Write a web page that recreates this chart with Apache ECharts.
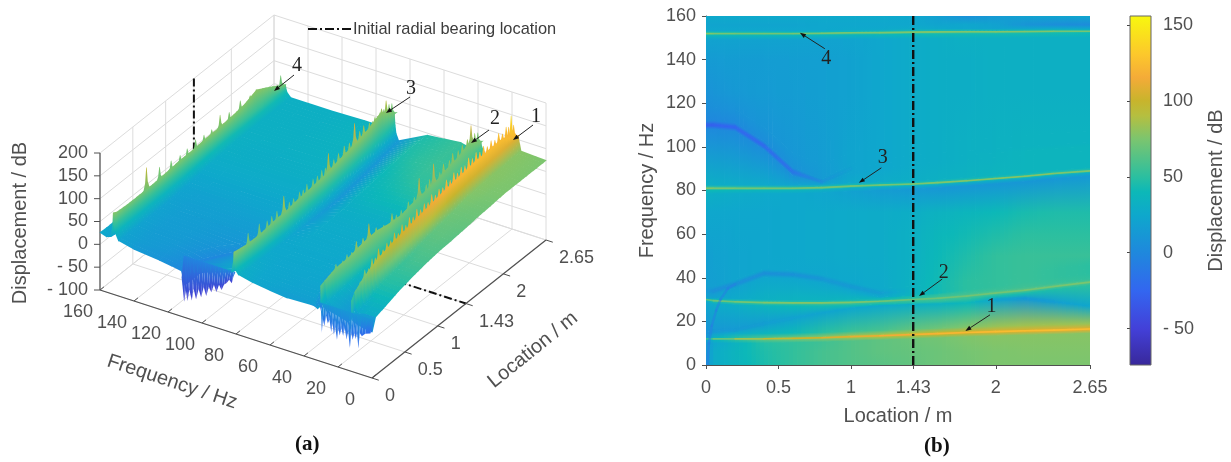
<!DOCTYPE html>
<html><head><meta charset="utf-8">
<style>html,body{margin:0;padding:0;background:#fff}#c{width:1231px;height:462px}</style>
<script src="https://cdn.jsdelivr.net/npm/echarts@6/dist/echarts.min.js"></script>
</head><body><div id="c"></div>
<script>
// ---------- scales and ticks
const locTicks=[0,0.5,1,1.43,2,2.65];
const freqTicks=[0,20,40,60,80,100,120,140,160];
const dispTicks=[-100,-50,0,50,100,150,200];
const barTicks=[-50,0,50,100,150];
const bearingLocation=1.43;
const bearingName='Initial radial bearing location';
const colorZ=[-74,-50,-25,0,25,40,50,75,90,100,115,130,156];
const colorHex=['#38289a','#4340d8','#3366f0','#1f88dd','#0ea8cc','#0cb8b8','#2bbfa0','#7cc56e','#b5bf40','#c8b42c','#f4ab38','#fcc72c','#f8f80e'];
// ---------- columns of the surface
const L=[0,0.05,0.2,0.4,0.6,0.8,1,1.2,1.43,1.6,1.8,2,2.2,2.4,2.65];
// ---------- resonance and valley traces (Hz per location)
const r1F=[12,12,12,12,12.2,12.5,13,13.4,14,14.4,14.9,15.3,15.7,16,16.5];
const r2F=[30,29.5,29,28.6,28.5,28.5,28.7,29.2,30,30.6,31.6,33,34.3,36,38];
const r3F=[81,81,81,81,81,81.3,82,82.5,83,83.6,84.5,85.5,86.5,87.8,89];
const r4F=[152,152,152,152,152,152.1,152.3,152.4,152.6,152.7,152.8,152.8,152.9,153,153];
const a6F=[15,15.5,16,19,21.5,24,26,27.2,27.8,28,28.5,30,30.5,29,27];
const a2Lo=[32,32,35,40,39.5,37.5,34,31,32,33,34.5,36,38,40,42];
const a2F=[34,34,37,42,41.5,39.5,36,33,34,35,36.5,38,40,42,44];
const a2Hi=[36,36,39,44,43.5,41.5,38,35,36,37,38.5,40,42,44,46];
const a1Lo=[108,108,107,98.5,86.5,83.2,88,90,92,93,94,95,96,97,98];
const a1F=[110,110,109,100.5,88.5,84,90,92,94,95,96,97,98,99,100];
const a1Hi=[112,112,111,102.5,90.5,85,92,94,96,97,98,99,100,101,102];
const a1Wide=[118,118,117,109,97,92,97,99,101,102,103,104,105,106,107];
// ---------- displacement values (dB) per frequency layer
const v0=[2,28,35,45,52,58,62,64,67,70,72,75,75,75,75];
const v6=[5,28,36,46,52,58,62,66,68,70,73,75,76,76,76];
const vR1m2=[10,24,34,48,52,56,62,66,70,72,76,78,78,78,78];
const vR1m=[14,36,50,66,72,78,84,90,96,100,102,104,106,108,108];
const vR1=[45,60,75,92,98,104,108,112,118,120,122,124,124,124,124];
const vR1p=[12,34,48,62,70,78,84,88,94,98,102,104,104,106,106];
const vR1p2=[6,18,28,36,40,48,54,58,66,70,76,82,84,84,82];
const vA6=[8,12,14,17,20,22,24,26,31,33,40,22,12,18,24];
const vR2m2=[22,28,30,36,40,42,42,40,46,50,50,44,44,46,50];
const vR2m=[30,45,50,52,54,56,56,54,56,58,58,58,60,60,60];
const vR2=[60,68,72,74,78,76,76,72,70,70,72,72,72,74,74];
const vR2p=[26,40,46,48,48,48,48,46,50,56,60,62,62,62,60];
const vR2p2=[16,20,26,32,34,34,36,36,44,50,54,54,56,54,52];
const vA2Lo=[18,18,22,24,24,24,24,26,36,42,50,52,54,52,50];
const vA2=[16,6,6,6,8,12,14,18,34,42,50,52,54,52,50];
const vA2Hi=[18,18,22,24,24,24,25,26,34,42,50,52,54,52,50];
const v50=[16,20,22,24,25,26,27,28,32,40,46,52,54,54,54];
const v60=[20,22,23,24,25,26,27,28,32,38,42,46,50,50,50];
const v70=[25,24,24,24,25,26,27,28,30,34,37,40,44,46,46];
const vR3m2=[32,30,28,26,25,24,20,16,14,12,12,12,12,12,14];
const vR3m1=[40,40,38,36,36,32,30,28,28,28,28,28,28,28,28];
const vR3m=[55,55,54,54,52,50,48,46,46,46,46,46,46,46,46];
const vR3=[78,74,72,72,72,72,72,72,74,76,76,78,78,78,72];
const vR3p=[56,54,52,50,48,46,44,44,44,46,46,46,46,48,48];
const vR3p2=[32,30,28,26,22,22,26,28,30,32,34,36,36,36,36];
const vA1Lo=[2,2,3,5,8,16,22,24,28,30,32,34,36,36,36];
const vA1=[-28,-28,-24,-22,-16,6,22,24,28,30,32,34,36,36,36];
const vA1Hi=[0,0,2,4,8,14,22,24,28,30,32,33,34,34,34];
const vA1Wide=[4,6,8,10,12,16,22,24,28,30,32,33,34,34,34];
const v125=[8,10,13,15,16,18,20,24,28,30,30,32,32,32,32];
const v140=[14,15,16,16,17,18,20,24,28,30,30,32,32,32,32];
const vR4m2=[22,20,20,20,20,20,22,24,28,30,32,32,32,32,32];
const vR4m1=[38,36,36,36,36,36,36,38,40,42,42,42,42,42,40];
const vR4m=[55,52,52,52,52,52,52,52,54,54,54,54,54,50,46];
const vR4=[78,74,72,72,72,74,74,74,76,76,76,76,78,74,72];
const vR4p=[45,42,42,42,40,40,42,42,44,44,44,42,42,42,40];
const vR4p2=[25,24,24,24,24,24,26,26,28,26,24,22,22,22,20];
const v156=[22,22,22,22,22,24,24,24,24,22,24,20,10,5,3];
const v160=[27,26,26,26,26,26,26,26,24,18,6,14,20,22,24];
// ---------- crest height of each ridge in panel (a)
const r1Env=[55,68,85,100,108,112,116,120,124,126,128,130,130,130,108];
const r2Env=[66,72,82,85,92,95,88,84,88,88,88,90,90,95,70];
const r3Env=[78,76,72,72,76,76,78,78,80,84,86,88,92,100,70];
const r4Env=[78,74,72,72,72,74,76,76,78,78,80,84,95,78,55];
// ---------- spike tips [location, dB] along the ridges of panel (a)
const r1Tips=[[.13,82],[.2,100],[.26,96],[.31,112],[.36,108],[.41,122],[.48,112],[.54,120],[.6,118],[.66,128],[.72,120],[.78,132],[.84,124],[.9,134],[.96,128],[1.02,138],[1.08,130],[1.14,136],[1.2,132],[1.26,142],[1.32,134],[1.38,140],[1.44,136],[1.5,146],[1.56,138],[1.62,148],[1.68,140],[1.74,146],[1.8,142],[1.86,152],[1.92,144],[1.98,150],[2.04,144],[2.1,150],[2.16,142],[2.22,148],[2.28,142],[2.34,150],[2.4,142],[2.46,150],[2.5,145],[2.54,165],[2.58,140]];
const r2Tips=[[.2,92],[.3,88],[.36,95],[.43,92],[.5,108],[.6,104],[.69,125],[.8,104],[.92,96],[1.05,106],[1.12,95],[1.2,96],[1.32,100],[1.42,98],[1.5,130],[1.62,102],[1.68,106],[1.75,132],[1.86,100],[1.93,110],[2.04,104],[2.1,112],[2.2,106],[2.28,108],[2.38,108],[2.45,130],[2.52,104],[2.58,98]];
const r3Tips=[[.21,96],[.38,97],[.5,90],[.57,92],[.65,94],[.76,114],[.85,90],[.92,90],[1.02,92],[1.08,90],[1.14,96],[1.24,95],[1.31,94],[1.38,98],[1.44,96],[1.49,122],[1.58,98],[1.66,102],[1.76,106],[1.85,102],[1.94,134],[2.03,106],[2.1,110],[2.2,104],[2.26,100],[2.3,104],[2.35,100],[2.42,108],[2.46,102],[2.5,116],[2.55,102],[2.6,98]];
const r4Tips=[[.5,121],[.7,99],[.88,92],[1.02,88],[1.13,90],[1.26,95],[1.39,90],[1.51,88],[1.64,105],[1.78,95],[1.95,101],[2.1,95],[2.57,85]];
// lower tips of the location-zero edge [frequency, dB]
const tipsHigh=[[112,-15],[110.5,-66],[109.5,-40],[108.5,-62],[107.5,-35],[106,-58],[105,-30],[103.5,-52],[102,-28],[100.5,-44],[99,-20],[97.5,-38],[96,-16],[94.5,-26],[93,-8],[91.5,-22],[90,-4],[88.5,-14],[87,0],[85.5,5],[84,14],[82.5,8],[81.5,24]];
const tipsLow=[[32,40],[30,10],[29.5,-36],[29,-5],[28,-20],[27,5],[26,-12],[25,-2],[24,-28],[23.2,-8],[22.4,-32],[21.6,-14],[20.6,-41],[19.8,-16],[19,-30],[18,-12],[17,-28],[16,-10],[15,-34],[14,-14],[13,-50],[12.2,-16],[11.4,-30],[10.4,-14],[9.6,-26],[8.8,-12],[8,-45],[7.2,-10],[6,-16],[4,-8],[1,-4],[0,2]];
const edgeValley=[[0.01,0],[0.02,10],[0.04,18],[0.07,25],[0.1,30],[0.15,35],[0.2,37]];
// annotations: [label, labelPos, arrowFrom, arrowTo]
const annB=[['1',[1.97,26.5],[1.96,23],[1.79,15.6]],['2',[1.64,42.5],[1.63,39.4],[1.47,31.6]],['3',[1.22,94.9],[1.21,90.4],[1.055,83.5]],['4',[.83,140.4],[.82,145],[.648,152.3]]];
const annA=[['1',[436,261],[433,253],[413,238]],['2',[395,259],[389,248],[371,235]],['3',[311,289],[310,281],[286,265]],['4',[197,312],[194,303],[174,287]]];

const add=(a,d)=>a.map(v=>v+d);
const row=(f,v,extra)=>Object.assign({f:f,v:v},extra||{});
const flat=x=>L.map(()=>x);
const layers=[
 row(flat(0),v0),row(flat(6),v6),row(add(r1F,-2),vR1m2),row(add(r1F,-.35),vR1m),
 row(r1F,vR1,{tips:r1Tips,env:r1Env,tr:r1F,ridge:1}),row(add(r1F,.35),vR1p),row(add(r1F,2.5),vR1p2),
 row(a6F,vA6,{valley:1}),row(add(r2F,-1.5),vR2m2),row(add(r2F,-.4),vR2m),
 row(r2F,vR2,{tips:r2Tips,env:r2Env,tr:r2F,ridge:1}),row(add(r2F,.4),vR2p),row(add(r2F,1.5),vR2p2),
 row(a2Lo,vA2Lo),row(a2F,vA2,{valley:1}),row(a2Hi,vA2Hi),row(flat(50),v50),row(flat(60),v60),row(flat(70),v70),
 row(add(r3F,-2.5),vR3m2),row(add(r3F,-1),vR3m1),row(add(r3F,-.4),vR3m),
 row(r3F,vR3,{tips:r3Tips,env:r3Env,tr:r3F,ridge:1}),row(add(r3F,.4),vR3p),row(add(r3F,1.5),vR3p2,{edge:1}),
 row(a1Lo,vA1Lo),row(a1F,vA1,{valley:1}),row(a1Hi,vA1Hi),row(a1Wide,vA1Wide),row(flat(125),v125),row(flat(140),v140),
 row(add(r4F,-3),vR4m2),row(add(r4F,-1),vR4m1),row(add(r4F,-.4),vR4m),
 row(r4F,vR4,{tips:r4Tips,env:r4Env,tr:r4F,ridge:1}),row(add(r4F,.4),vR4p),row(add(r4F,1.5),vR4p2),
 row(flat(156),v156),row(flat(160),v160)
];

function hex(h){return [1,3,5].map(i=>parseInt(h.substr(i,2),16));}
const colorRGB=colorHex.map(hex);
function col(z){
  if(z<=colorZ[0])return colorHex[0];
  for(let i=1;i<colorZ.length;i++){ if(z<=colorZ[i]){
    const t=(z-colorZ[i-1])/(colorZ[i]-colorZ[i-1]);const a=colorRGB[i-1],b=colorRGB[i];
    return 'rgb('+a.map((c,k)=>Math.round(c+(b[k]-c)*t)).join(',')+')';}}
  return colorHex[colorHex.length-1];
}
function grad(p,q,zp,zq){return new echarts.graphic.LinearGradient(p[0],p[1],q[0],q[1],[{offset:0,color:col(zp)},{offset:1,color:col(zq)}],true);}
const mid=(a,b)=>[(a[0]+b[0])/2,(a[1]+b[1])/2];
const mix=(a,b,t)=>a+(b-a)*t;
// shade a mesh slice so that its colour bands run parallel to its row edges
function cellFill(a,b,d,e,zl,zh){
  const m=mid(a,b),o=mid(d,e);let ux=b[0]-a[0],uy=b[1]-a[1];const n=Math.hypot(ux,uy)||1;ux/=n;uy/=n;
  const nx=-uy,ny=ux,h=(o[0]-m[0])*nx+(o[1]-m[1])*ny;
  if(Math.abs(h)<0.05)return col((zl+zh)/2);
  return grad(m,[m[0]+nx*h,m[1]+ny*h],zl,zh);
}
// push a corner away from its neighbour so that the slice painted next hides the seam
function away(p,q,px){const dx=p[0]-q[0],dy=p[1]-q[1],n=Math.hypot(dx,dy)||1;return [p[0]+dx/n*px,p[1]+dy/n*px];}
function traceAt(tr,l){for(let i=1;i<L.length;i++){if(l<=L[i]){const t=(l-L[i-1])/(L[i]-L[i-1]);return mix(tr[i-1],tr[i],t);}}return tr[tr.length-1];}

// ---------- panel (a) projection onto the hidden planar axes
const fSpan=[272,88], lSpan=[174,138], zSpan=137;
function proj(f,l,z){return [fSpan[0]*(1-f/160)+lSpan[0]*l/2.65, fSpan[1]*f/160+lSpan[1]*l/2.65+(z+100)*zSpan/300];}

const sans='"Liberation Sans", Arial, sans-serif', serif='"Liberation Serif", "Times New Roman", serif';
const ink='#505050', tickFont='18px '+sans, titleFont='20px '+sans;
const itemsA=[];
function line3(pts,stroke,width,dash){itemsA.push({k:'line',pts:pts.map(p=>proj(p[0],p[1],p[2])),stroke,width,dash});}
// walls
const wall='#dcdcdc';
dispTicks.forEach(z=>{line3([[160,0,z],[160,2.65,z],[0,2.65,z]],wall,1);});
locTicks.forEach(l=>{line3([[160,l,-100],[160,l,200]],wall,1);line3([[0,l,-100],[160,l,-100]],wall,1);});
freqTicks.forEach(f=>{line3([[f,2.65,-100],[f,2.65,200]],wall,1);line3([[f,0,-100],[f,2.65,-100]],wall,1);});
// bearing trace behind the surface
line3([[160,bearingLocation,200],[160,bearingLocation,-100],[0,bearingLocation,-100]],'#111',2,[8,3,2,3]);
// axes
line3([[160,0,-100],[160,0,200]],ink,1.2);
line3([[160,0,-100],[0,0,-100]],ink,1.2);
line3([[0,0,-100],[0,2.65,-100]],ink,1.2);
dispTicks.forEach(z=>{const p=proj(160,0,z);itemsA.push({k:'line',pts:[p,[p[0]-6,p[1]]],stroke:ink,width:1});
  itemsA.push({k:'text',p:p,dx:-12,dy:0,text:z<0?'- '+(-z):String(z),font:tickFont,align:'right',fill:ink});});
freqTicks.forEach(f=>{line3([[f,0,-100],[f,.06,-100]],ink,1);
  itemsA.push({k:'text',p:proj(f,0,-100),dx:-22,dy:22,text:String(f),font:tickFont,align:'center',fill:ink});});
locTicks.forEach(l=>{line3([[0,l,-100],[-4,l,-100]],ink,1);
  itemsA.push({k:'text',p:proj(0,l,-100),dx:13,dy:18,text:String(l),font:tickFont,align:'left',fill:ink});});
itemsA.push({k:'text',p:[72,-4],dx:0,dy:0,text:'Frequency / Hz',font:titleFont,align:'center',fill:ink,rot:-0.32});
itemsA.push({k:'text',p:[433,28],dx:0,dy:0,text:'Location / m',font:titleFont,align:'center',fill:ink,rot:0.68});
itemsA.push({k:'text',p:[-80,155],dx:0,dy:0,text:'Displacement / dB',font:titleFont,align:'center',fill:ink,rot:Math.PI/2});
// surface, far to near; each mesh cell is shaded across its width by slices
const zOf=r=>r.env||r.v;
function sliceCount(c,per){return Math.max(1,Math.ceil((L[c+1]-L[c])/per));}
const needle=[[-.09,0],[-.045,.16],[-.02,.42],[-.004,1],[.004,1],[.02,.42],[.045,.16],[.09,0]];
for(let i=layers.length-2;i>=0;i--){
  const lo=layers[i],hi=layers[i+1],zl=zOf(lo),zh=zOf(hi);
  for(let c=L.length-2;c>=0;c--){
    const n=sliceCount(c,.06);
    for(let s=n-1;s>=0;s--){
      const t0=s/n,t1=(s+1)/n,P=(r,z,t)=>proj(mix(r.f[c],r.f[c+1],t),mix(L[c],L[c+1],t),mix(z[c],z[c+1],t));
      itemsA.push({k:'cell',a:P(lo,zl,t0),b:P(lo,zl,t1),d:P(hi,zh,t0),e:P(hi,zh,t1),
        zl:mix(lo.v[c],lo.v[c+1],(t0+t1)/2),zh:mix(hi.v[c],hi.v[c+1],(t0+t1)/2)});
    }
  }
  if(lo.tips){
    lo.tips.slice().reverse().forEach(tp=>{
      const b=traceAt(lo.env,tp[0])-7,f=traceAt(lo.tr,tp[0]),vb=traceAt(lo.v,tp[0]);
      const pts=needle.map(n=>proj(f,tp[0]+n[0],b+(tp[1]-b)*n[1]));
      itemsA.push({k:'spike',pts,g0:proj(f,tp[0],b),g1:proj(f,tp[0],tp[1]),z0:vb-4,z1:Math.max(vb,tp[1]-24)});
    });
  }
  if(lo.edge){
    for(let s=tipsHigh.length-2;s>=0;s--){
      const A=tipsHigh[s],B=tipsHigh[s+1];
      itemsA.push({k:'spike',pts:[proj(A[0],0,A[1]),proj(B[0],0,B[1]),proj(B[0],.03,30),proj(A[0],.03,30)],
        g0:proj(A[0],0,Math.min(A[1],B[1])),g1:proj(A[0],.03,30),z0:-52,z1:-2});
    }
  }
}
for(let s=0;s<tipsLow.length-1;s++){
  const A=tipsLow[s],B=tipsLow[s+1];
  itemsA.push({k:'spike',pts:[proj(A[0],0,A[1]),proj(B[0],0,B[1]),proj(B[0],.03,24),proj(A[0],.03,24)],
    g0:proj(A[0],0,Math.min(A[1],B[1])),g1:proj(A[0],.03,24),z0:-22,z1:12});
}
annA.forEach(a=>itemsA.push({k:'ann',text:a[0],lab:a[1],from:a[2],to:a[3]}));

function arrow(api,from,to){
  const P=api.coord(from),Q=api.coord(to);
  const dx=Q[0]-P[0],dy=Q[1]-P[1],n=Math.hypot(dx,dy),ux=dx/n,uy=dy/n;
  const h=6,w=2.2,bx=Q[0]-ux*h,by=Q[1]-uy*h;
  return [{type:'line',shape:{x1:P[0],y1:P[1],x2:bx,y2:by},style:{stroke:'#222',lineWidth:1}},
          {type:'polygon',shape:{points:[Q,[bx-uy*w,by+ux*w],[bx+uy*w,by-ux*w]]},style:{fill:'#111'}}];
}
function annText(api,t,lab){const p=api.coord(lab);return {type:'text',x:p[0],y:p[1],style:{text:t,font:'20px '+serif,fill:'#222',textAlign:'center',textVerticalAlign:'middle'}};}

function renderA(params,api){
  const it=itemsA[params.dataIndex],C=p=>api.coord(p);
  if(it.k==='line')return {type:'polyline',shape:{points:it.pts.map(C)},style:{stroke:it.stroke,lineWidth:it.width,lineDash:it.dash||null,fill:null}};
  if(it.k==='cell'){
    const a=C(it.a),b=C(it.b),d=C(it.d),e=C(it.e);
    const g=cellFill(a,b,d,e,it.zl,it.zh);
    const a1=away(away(a,d,.7),b,.7),b1=away(b,e,.7),d1=away(d,e,.7);
    return {type:'polygon',shape:{points:[a1,b1,e,d1]},style:{fill:g}};
  }
  if(it.k==='spike'){
    const g=grad(C(it.g0),C(it.g1),it.z0,it.z1);
    return {type:'polygon',shape:{points:it.pts.map(C)},style:{fill:g}};
  }
  if(it.k==='text'){const p=C(it.p);
    return {type:'text',x:p[0]+it.dx,y:p[1]+it.dy,rotation:it.rot||0,style:{text:it.text,font:it.font,fill:it.fill,textAlign:it.align,textVerticalAlign:'middle'}};}
  if(it.k==='ann')return {type:'group',children:arrow(api,it.from,it.to).concat([annText(api,it.text,it.lab)])};
}

// ---------- panel (b)
const itemsB=[];
for(let i=0;i<layers.length-1;i++){for(let c=0;c<L.length-1;c++){
  const lo=layers[i],hi=layers[i+1],n=sliceCount(c,.03);
  for(let s=0;s<n;s++){
    const t0=s/n,t1=(s+1)/n,P=(r,t)=>[mix(L[c],L[c+1],t),mix(r.f[c],r.f[c+1],t)];
    itemsB.push({k:'cell',a:P(lo,t0),b:P(lo,t1),d:P(hi,t0),e:P(hi,t1),
      zl:mix(lo.v[c],lo.v[c+1],(t0+t1)/2),zh:mix(hi.v[c],hi.v[c+1],(t0+t1)/2)});
  }
}}
layers.forEach(r=>{
  if(r.valley){for(let c=0;c<L.length-1;c++){const z=(r.v[c]+r.v[c+1])/2;if(z<20)itemsB.push({k:'seg',a:[L[c],r.f[c]],b:[L[c+1],r.f[c+1]],z:z,w:3.5,o:.28});}}
  if(r.ridge){for(let c=0;c<L.length-1;c++){const z=(r.v[c]+r.v[c+1])/2;
    itemsB.push({k:'seg',a:[L[c],r.f[c]],b:[L[c+1],r.f[c+1]],z:z,w:1.6,o:1});}}
});
for(let s=0;s<edgeValley.length-1;s++)itemsB.push({k:'seg',a:edgeValley[s],b:edgeValley[s+1],z:-8,w:2.5,o:.5});
annB.forEach(a=>itemsB.push({k:'ann',text:a[0],lab:a[1],from:a[2],to:a[3]}));

function renderB(params,api){
  const it=itemsB[params.dataIndex],C=p=>api.coord(p);
  if(it.k==='cell'){
    const a=C(it.a),b=C(it.b),d=C(it.d),e=C(it.e);
    const g=cellFill(a,b,d,e,it.zl,it.zh);
    const b1=away(b,a,.8),d1=away(d,a,.8),e1=away(away(e,d,.8),b,.8);
    return {type:'polygon',shape:{points:[a,b1,e1,d1]},style:{fill:g}};
  }
  if(it.k==='seg'){const a=C(it.a),b=C(it.b);
    return {type:'line',shape:{x1:a[0],y1:a[1],x2:b[0],y2:b[1]},style:{stroke:col(it.z),lineWidth:it.w,opacity:it.o,lineCap:'round'}};}
  if(it.k==='ann')return {type:'group',children:arrow(api,it.from,it.to).concat([annText(api,it.text,it.lab)])};
}
function renderBar(params,api){
  const p=api.coord([0,colorZ[colorZ.length-1]]),q=api.coord([1,colorZ[0]]);
  const span=colorZ[colorZ.length-1]-colorZ[0];
  const stops=colorZ.map((z,i)=>({offset:(z-colorZ[0])/span,color:colorHex[i]}));
  return {type:'rect',shape:{x:p[0],y:p[1],width:q[0]-p[0],height:q[1]-p[1]},
    style:{fill:new echarts.graphic.LinearGradient(0,1,0,0,stops),stroke:'#666',lineWidth:1}};
}

const axisText={color:ink,fontFamily:'Liberation Sans',fontSize:18};
const nameText={color:ink,fontFamily:'Liberation Sans',fontSize:20};
const richTitle={n:{fontFamily:'Liberation Serif',fontSize:21,color:'#111'},b:{fontFamily:'Liberation Serif',fontSize:21,fontWeight:'bold',color:'#111'}};
const option={
  animation:false,backgroundColor:'#fff',
  title:[
   {text:'{n|(}{b|a}{n|)}',left:290,top:429,textStyle:{rich:richTitle}},
   {text:'{n|(}{b|b}{n|)}',left:919,top:431,textStyle:{rich:richTitle}}
  ],
  legend:{data:[bearingName],left:307,top:21,itemWidth:44,itemHeight:16,itemGap:0,padding:0,
    itemStyle:{color:'transparent',borderWidth:0,opacity:0},
    textStyle:{fontFamily:'Liberation Sans',fontSize:16.4,color:'#3c3c3c',padding:[0,0,0,-4]},selectedMode:false},
  grid:[
   {left:100,top:16,width:446,height:362},
   {left:706,top:16,width:384,height:349},
   {left:1130,top:16,width:21,height:349}
  ],
  xAxis:[
   {gridIndex:0,type:'value',min:0,max:446,show:false},
   {gridIndex:1,type:'value',min:0,max:2.65,name:'Location / m',nameLocation:'middle',nameGap:41,nameTextStyle:nameText,splitLine:{show:false},
    axisLine:{onZero:false,lineStyle:{color:ink}},axisTick:{customValues:locTicks,length:4,lineStyle:{color:ink}},axisLabel:Object.assign({customValues:locTicks,margin:14},axisText)},
   {gridIndex:2,type:'value',min:0,max:1,show:false}
  ],
  yAxis:[
   {gridIndex:0,type:'value',min:0,max:362,show:false},
   {gridIndex:1,type:'value',min:0,max:160,interval:20,name:'Frequency / Hz',nameLocation:'middle',nameGap:49,nameRotate:90,nameTextStyle:nameText,splitLine:{show:false},
    axisLine:{lineStyle:{color:ink}},axisTick:{length:4,lineStyle:{color:ink}},axisLabel:Object.assign({margin:10},axisText)},
   {gridIndex:2,type:'value',min:colorZ[0],max:colorZ[colorZ.length-1],position:'right',name:'Displacement / dB',nameLocation:'middle',nameGap:55,nameRotate:90,nameTextStyle:nameText,splitLine:{show:false},
    axisLine:{show:false},axisTick:{inside:true,customValues:barTicks,length:3,lineStyle:{color:'#444'}},
    axisLabel:Object.assign({customValues:barTicks,margin:12,formatter:v=>v<0?'- '+(-v):String(v)},axisText)}
  ],
  series:[
   {type:'custom',name:'surface',coordinateSystem:'cartesian2d',xAxisIndex:0,yAxisIndex:0,clip:false,silent:true,progressive:0,data:itemsA.map(()=>[0,0]),renderItem:renderA,z:2},
   {type:'custom',name:'map',coordinateSystem:'cartesian2d',xAxisIndex:1,yAxisIndex:1,clip:true,silent:true,progressive:0,data:itemsB.map(()=>[0,0]),renderItem:renderB,z:2},
   {type:'custom',name:'colorbar',coordinateSystem:'cartesian2d',xAxisIndex:2,yAxisIndex:2,silent:true,data:[[0,0]],renderItem:renderBar,z:2},
   {type:'line',name:bearingName,xAxisIndex:1,yAxisIndex:1,data:[[bearingLocation,0],[bearingLocation,160]],symbol:'none',silent:true,z:5,
    lineStyle:{color:'#111',width:2.4,type:[9,3,2,3]},itemStyle:{color:'#111'}}
  ]
};
const chart=echarts.init(document.getElementById('c'),null,{renderer:'canvas'});
chart.setOption(option);
</script></body></html>
